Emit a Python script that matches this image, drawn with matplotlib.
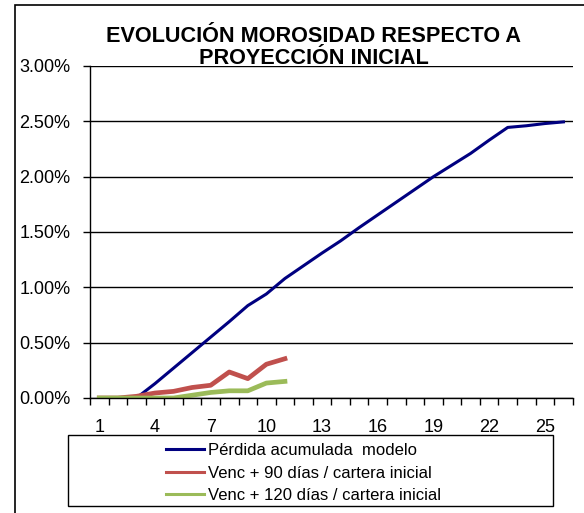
import matplotlib
matplotlib.use("Agg")
import matplotlib.pyplot as plt
from matplotlib.lines import Line2D
from matplotlib.patches import Rectangle
from matplotlib.ticker import FuncFormatter, FixedLocator

plt.rcParams['font.family'] = ['Liberation Sans', 'DejaVu Sans']

# data (values in %)
periods = list(range(1, 27))
perdida_modelo = [0.0, 0.0, 0.0, 0.13, 0.27, 0.41, 0.55, 0.69, 0.835, 0.94,
                  1.08, 1.195, 1.31, 1.42, 1.54, 1.655, 1.77, 1.885, 2.0, 2.105,
                  2.21, 2.33, 2.445, 2.46, 2.48, 2.495]
venc_90 = [0.0, 0.0, 0.015, 0.045, 0.06, 0.095, 0.115, 0.235, 0.175, 0.305, 0.355]
venc_120 = [0.0, 0.0, 0.0, 0.0, 0.0, 0.025, 0.05, 0.065, 0.065, 0.135, 0.15]

labels = ['Pérdida acumulada  modelo',
          'Venc + 90 días / cartera inicial',
          'Venc + 120 días / cartera inicial']
colors = ['#000080', '#C0504D', '#9BBB59']

W, H = 584, 513
fig = plt.figure(figsize=(W / 100, H / 100), dpi=100)
ax = fig.add_axes([90 / W, 1 - 398 / H, (572.7 - 90) / W, (398 - 66) / H])

# series
ax.plot(periods, perdida_modelo, color=colors[0], lw=2.2)
ax.plot(periods[:len(venc_90)], venc_90, color=colors[1], lw=3.4)
ax.plot(periods[:len(venc_120)], venc_120, color=colors[2], lw=3.4)

# axes setup
ax.set_xlim(0.5, 26.5)
ax.set_ylim(0, 3.0)
ax.set_yticks([0, 0.5, 1.0, 1.5, 2.0, 2.5, 3.0])
ax.yaxis.set_major_formatter(FuncFormatter(lambda v, p: '%.2f%%' % v))
ax.grid(axis='y', color='black', lw=1)
ax.set_axisbelow(True)

ax.xaxis.set_major_locator(FixedLocator(periods[::3]))
ax.xaxis.set_minor_locator(FixedLocator([p + 0.5 for p in [0] + periods]))
ax.tick_params(axis='x', which='major', length=0, pad=15, labelsize=13)
ax.tick_params(axis='x', which='minor', length=5, width=1, direction='out', color='black')
ax.tick_params(axis='y', length=5, width=1, direction='out', labelsize=13, pad=9)

for side in ['top', 'right']:
    ax.spines[side].set_visible(False)
for side in ['left', 'bottom']:
    ax.spines[side].set_color('black')
    ax.spines[side].set_linewidth(1)

# title
fig.text(314 / W, 1 - 47.5 / H, 'EVOLUCIÓN MOROSIDAD RESPECTO A\nPROYECCIÓN INICIAL',
         ha='center', va='center', fontsize=15.6, fontweight='bold', linespacing=1.05)

# legend box + legend (thin handles like the original)
fig.patches.append(Rectangle((68 / W, 1 - 506 / H), (553 - 68) / W, (506 - 435) / H,
                             transform=fig.transFigure, fill=False,
                             edgecolor='black', lw=1))
handles = [Line2D([], [], color=c, lw=2.2) for c in colors]
fig.legend(handles, labels, loc='upper left',
           bbox_to_anchor=(166 / W, 1 - 443 / H), frameon=False,
           fontsize=12, handlelength=2.3, handletextpad=0.2,
           labelspacing=0.45, borderpad=0, borderaxespad=0)

# chart area border
fig.patches.append(Rectangle((15 / W, -0.1), 1.2, 1.1 - 5 / H,
                             transform=fig.transFigure, fill=False,
                             edgecolor='black', lw=1.2))

fig.savefig('out.png', dpi=100)
